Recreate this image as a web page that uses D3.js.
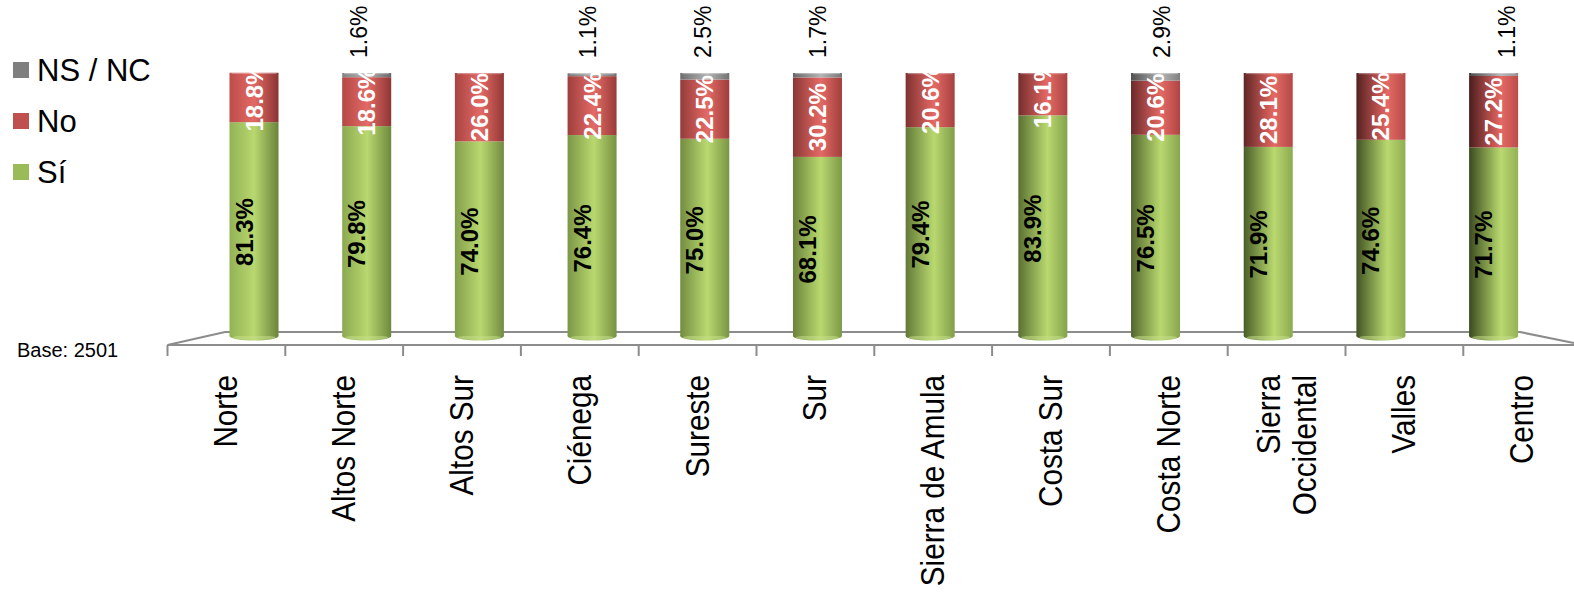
<!DOCTYPE html>
<html>
<head>
<meta charset="utf-8">
<script src="https://cdn.jsdelivr.net/npm/d3@7"></script>
<style>
  html, body { margin: 0; padding: 0; background: #ffffff; }
  svg { display: block; font-family: "Liberation Sans", Arial, sans-serif; }
</style>
</head>
<body>
<svg id="chart" width="1574" height="603"></svg>
<script>
// ---- data ----
const categories = ["Norte", "Altos Norte", "Altos Sur", "Ciénega", "Sureste", "Sur",
  "Sierra de Amula", "Costa Sur", "Costa Norte", "Sierra Occidental", "Valles", "Centro"];
const labelLines = [["Norte"], ["Altos Norte"], ["Altos Sur"], ["Ciénega"], ["Sureste"], ["Sur"],
  ["Sierra de Amula"], ["Costa Sur"], ["Costa Norte"], ["Sierra", "Occidental"], ["Valles"], ["Centro"]];
const si   = [81.3, 79.8, 74.0, 76.4, 75.0, 68.1, 79.4, 83.9, 76.5, 71.9, 74.6, 71.7];
const no   = [18.8, 18.6, 26.0, 22.4, 22.5, 30.2, 20.6, 16.1, 20.6, 28.1, 25.4, 27.2];
const nsnc = [0,    1.6,  0,    1.1,  2.5,  1.7,  0,    0,    2.9,  0,    0,    1.1];
const seriesNames = ["Sí", "No", "NS / NC"];
const baseText = "Base: 2501";

// ---- layout ----
const svg = d3.select("#chart");
const W = 1574, H = 603;
const yBase = 336, yTop = 73;
const y = d3.scaleLinear().domain([0, 100]).range([yBase, yTop]);
const x = d3.scaleBand().domain(categories).range([197.6, 1550]).paddingInner(0.565).paddingOuter(0.283);
// front edge of the 3D floor (perspective wider)
const xf = d3.scaleBand().domain(categories).range([167.5, 167.5 + 117.8 * 12]);

const defs = svg.append("defs");
const pal = {
  "Sí":      { l0: "#93b255", l1: "#3a4a1f", hi: "#b9d86f", r0: "#6a843b", r1: "#93b255" },
  "No":      { l0: "#bd4c49", l1: "#4a1d1d", hi: "#e36a66", r0: "#8a3432", r1: "#bd4c49" },
  "NS / NC": { l0: "#8a8a8a", l1: "#3a3a3a", hi: "#b4b4b4", r0: "#646464", r1: "#8a8a8a" }
};
const flat = { "Sí": "#9bbb59", "No": "#c0504d", "NS / NC": "#7f7f7f" };

categories.forEach((c, i) => {
  const t = i / (categories.length - 1);
  seriesNames.forEach((s, k) => {
    const p = pal[s];
    const g = defs.append("linearGradient").attr("id", `g${i}_${k}`)
      .attr("x1", "0%").attr("x2", "100%").attr("y1", "0%").attr("y2", "0%");
    const hp = 0.5 + 0.15 * t;
    g.append("stop").attr("offset", "0%").attr("stop-color", d3.interpolateRgb(p.l0, p.l1)(t));
    g.append("stop").attr("offset", (hp * 100 - 10) + "%").attr("stop-color", d3.interpolateRgb(p.l0, p.hi)(0.8 - 0.3 * t));
    g.append("stop").attr("offset", (hp * 100) + "%").attr("stop-color", p.hi);
    g.append("stop").attr("offset", "100%").attr("stop-color", d3.interpolateRgb(p.r0, p.r1)(t));
  });
});

// ---- floor ----
const floorColor = "#8c8c8c";
const backL = 225, backR = 1520, backY = 332, frontY = 345;
svg.append("path")
  .attr("d", `M${xf.range()[0]},${frontY} L${backL},${backY} L${backR},${backY} L${W},${frontY - 2}`)
  .attr("fill", "none").attr("stroke", floorColor).attr("stroke-width", 2.2);
svg.append("line").attr("x1", xf.range()[0]).attr("x2", W).attr("y1", frontY).attr("y2", frontY)
  .attr("stroke", floorColor).attr("stroke-width", 2.2);
svg.append("g").selectAll("line").data(d3.range(categories.length + 1)).join("line")
  .attr("x1", i => xf.range()[0] + xf.step() * i).attr("x2", i => xf.range()[0] + xf.step() * i)
  .attr("y1", frontY).attr("y2", frontY + 11)
  .attr("stroke", floorColor).attr("stroke-width", 2);

// ---- bars ----
const stacked = categories.map((c, i) => {
  const vals = [si[i], no[i], nsnc[i]];
  let acc = 0;
  return vals.map((v, k) => { const s = { c, i, k, v, y0: acc, y1: acc + v }; acc += v; return s; });
});
const bw = x.bandwidth();
const barG = svg.append("g");
stacked.forEach(segs => {
  const g = barG.append("g");
  const c = segs[0].c, i = segs[0].i;
  g.append("ellipse").attr("cx", x(c) + bw / 2).attr("cy", y(0)).attr("rx", bw / 2).attr("ry", 4.5)
    .attr("fill", `url(#g${i}_0)`);
  g.append("ellipse").attr("cx", x(c) + bw / 2).attr("cy", y(0) + 1.5).attr("rx", bw / 2 - 3).attr("ry", 2.5)
    .attr("fill", "#c7e08a").attr("opacity", 0.5);
  g.selectAll("rect").data(segs.filter(d => d.v > 0)).join("rect")
    .attr("x", x(c)).attr("width", bw)
    .attr("y", d => y(d.y1)).attr("height", d => y(d.y0) - y(d.y1))
    .attr("fill", d => `url(#g${d.i}_${d.k})`);
  const top = segs[2].y1;
  g.append("rect").attr("x", x(c) + 2).attr("width", bw - 4).attr("y", y(top)).attr("height", 1.2)
    .attr("fill", "#ffffff").attr("opacity", 0.35);
});

// ---- value labels ----
const lbl = svg.append("g");
lbl.selectAll("text.si").data(stacked.map(s => s[0])).join("text")
  .attr("transform", d => `translate(${x(d.c) + bw / 2 - 10},${(y(d.y0) + y(d.y1)) / 2 + 3}) rotate(-90)`)
  .attr("text-anchor", "middle").attr("dominant-baseline", "central")
  .attr("font-size", 24).attr("font-weight", "bold").attr("fill", "#000")
  .text(d => d.v.toFixed(1) + "%");
lbl.selectAll("text.no").data(stacked.map(s => s[1])).join("text")
  .attr("transform", d => `translate(${x(d.c) + bw / 2},${(y(d.y0) + y(d.y1)) / 2}) rotate(-90)`)
  .attr("text-anchor", "middle").attr("dominant-baseline", "central")
  .attr("font-size", 24).attr("font-weight", "bold").attr("fill", "#fff")
  .text(d => d.v.toFixed(1) + "%");
lbl.selectAll("text.ns").data(stacked.map(s => s[2]).filter(d => d.v > 0)).join("text")
  .attr("transform", d => `translate(${x(d.c) + bw / 2 - 10 + 2.1 * d.i},${y(d.y1) - 15}) rotate(-90)`)
  .attr("text-anchor", "start").attr("dominant-baseline", "central")
  .attr("font-size", 23).attr("fill", "#000")
  .text(d => d.v.toFixed(1) + "%");

// ---- category labels ----
const catG = svg.append("g");
labelLines.forEach((lines, i) => {
  const cx = xf(categories[i]) + xf.bandwidth() / 2;
  const t = catG.append("text")
    .attr("transform", `translate(${cx},375) rotate(-90) scale(0.9,1)`)
    .attr("text-anchor", "end").attr("font-size", 33).attr("fill", "#000");
  const n = lines.length, lh = 36;
  lines.forEach((ln, j) => {
    t.append("tspan").attr("x", 0).attr("y", (j - (n - 1) / 2) * lh)
      .attr("dominant-baseline", "central").text(ln);
  });
});

// ---- legend ----
const legend = svg.append("g");
const legendItems = ["NS / NC", "No", "Sí"];
legendItems.forEach((s, j) => {
  const cy = 70 + j * 51;
  legend.append("rect").attr("x", 13).attr("y", cy - 8).attr("width", 16).attr("height", 16).attr("fill", flat[s]);
  legend.append("text").attr("x", 37).attr("y", cy).attr("dominant-baseline", "central")
    .attr("font-size", 31).attr("fill", "#000").text(s);
});

// ---- base note ----
svg.append("text").attr("x", 17).attr("y", 357).attr("font-size", 20).attr("fill", "#000").text(baseText);
</script>
</body>
</html>
